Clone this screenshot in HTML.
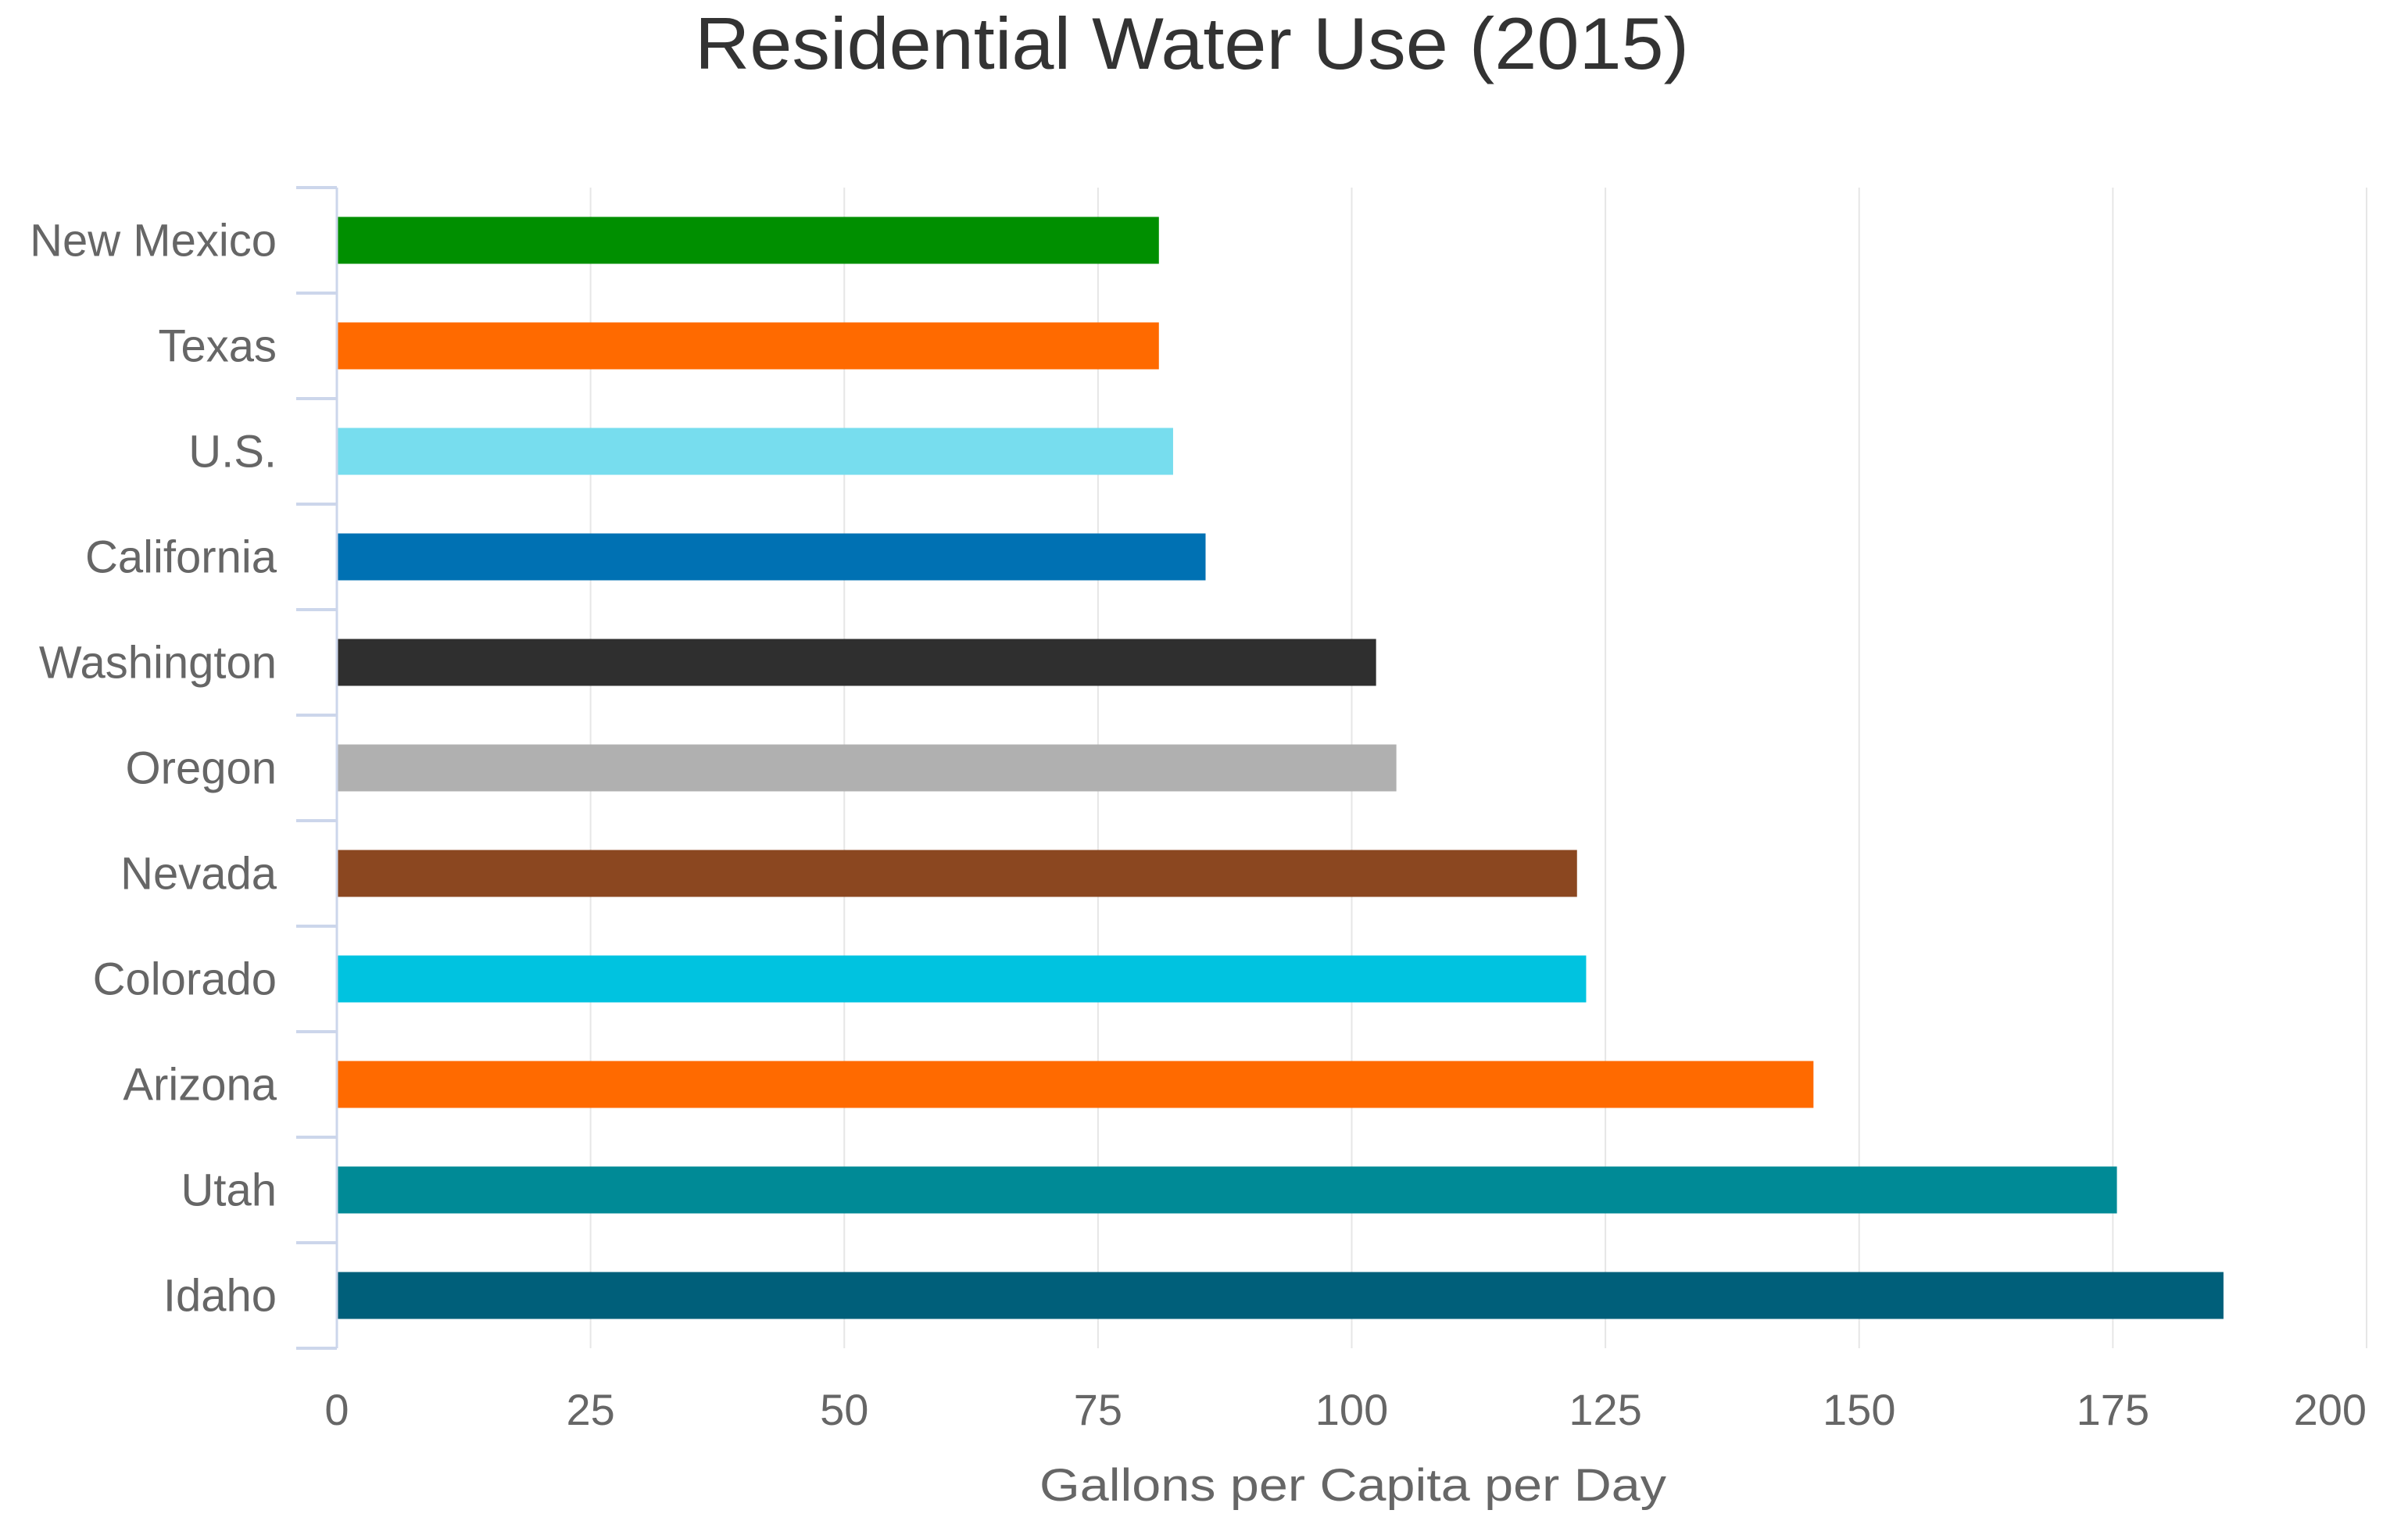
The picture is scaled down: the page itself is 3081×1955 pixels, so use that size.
<!DOCTYPE html>
<html><head><meta charset="utf-8"><style>
html,body{margin:0;padding:0;background:#fff;}
svg{display:block;font-family:"Liberation Sans","DejaVu Sans",sans-serif;}
</style></head><body>
<svg id="chart" width="3081" height="1955" viewBox="0 0 3081 1955" xmlns="http://www.w3.org/2000/svg">
<rect width="3081" height="1955" fill="#fff"/>
<text x="1525" y="88" text-anchor="middle" font-size="94" fill="#333" textLength="1272" lengthAdjust="spacingAndGlyphs">Residential Water Use (2015)</text>
<g id="grid"></g>
<g id="bars"></g>
<g id="yaxis"></g>
<g id="xaxis"></g>
<text x="1731" y="1920" text-anchor="middle" font-size="58" fill="#666" textLength="802" lengthAdjust="spacingAndGlyphs">Gallons per Capita per Day</text>
</svg>
<script>
const categories = ["New Mexico","Texas","U.S.","California","Washington","Oregon","Nevada","Colorado","Arizona","Utah","Idaho"];
const values = [81,81,82.4,85.6,102.4,104.4,122.2,123.1,145.5,175.4,185.9];
const barColors = ["#008f00","#ff6a00","#77ddee","#0071b3","#2f2f2f","#b0b0b0","#8b4720","#00c3e0","#ff6a00","#008a96","#005f7a"];
const xTicks = [0,25,50,75,100,125,150,175,200];

const NS = "http://www.w3.org/2000/svg";
const X0 = 431, X1 = 3028, XMAX = 200;
const TOP = 240, BOTTOM = 1725;
function xScale(v){ return X0 + (v / XMAX) * (X1 - X0); }
const band = (BOTTOM - TOP) / categories.length;
function yBand(i){ return TOP + i * band; }
function mk(tag, attrs){ const e = document.createElementNS(NS, tag); for (const k in attrs) e.setAttribute(k, attrs[k]); return e; }

const grid = document.getElementById('grid');
const xaxis = document.getElementById('xaxis');
xTicks.forEach((t, i) => {
  const x = xScale(t);
  if (t > 0) {
    const g = mk('line', {x1:x, x2:x, y1:TOP, y2:BOTTOM, stroke:'#e6e6e6', 'stroke-width':2});
    
    
    grid.appendChild(g);
  }
  const last = i === xTicks.length - 1;
  const lb = mk('text', {x:x, y:1823, 'text-anchor': last ? 'end' : 'middle', 'font-size':56, fill:'#666'});
  lb.textContent = t;
  
  
  xaxis.appendChild(lb);
});

const bars = document.getElementById('bars');
const yaxis = document.getElementById('yaxis');
const barH = 60;
categories.forEach((c, i) => {
  const cy = yBand(i) + band / 2;
  const r = mk('rect', {x:X0, y:cy - barH/2, width:xScale(values[i]) - X0, height:barH, fill:barColors[i]});
  
  
  bars.appendChild(r);
  const lb = mk('text', {x:354, y:cy + 20, 'text-anchor':'end', 'font-size':58, fill:'#666'});
  lb.textContent = c;
  
  
  yaxis.appendChild(lb);
});
for (let i = 0; i <= categories.length; i++) {
  const y = yBand(i);
  const tk = mk('line', {x1:379, x2:X0, y1:y, y2:y, stroke:'#ccd6eb', 'stroke-width':4});
  
  
  yaxis.appendChild(tk);
}
const ax = mk('line', {x1:X0, x2:X0, y1:TOP, y2:BOTTOM, stroke:'#ccd6eb', 'stroke-width':3});


yaxis.appendChild(ax);
</script>
</body></html>
